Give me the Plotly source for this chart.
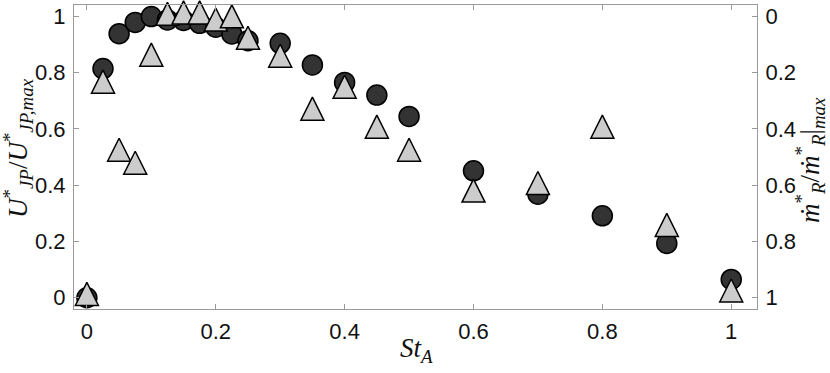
import plotly.graph_objects as go

# Strouhal numbers
st_a = [0, 0.025, 0.05, 0.075, 0.1, 0.125, 0.15, 0.175, 0.2, 0.225, 0.25,
        0.3, 0.35, 0.4, 0.45, 0.5, 0.6, 0.7, 0.8, 0.9, 1.0]
# left axis: U*_JP / U*_JP,max (circles)
u_jp = [0.0, 0.814, 0.938, 0.978, 0.999, 0.987, 0.985, 0.975, 0.961, 0.937, 0.913,
        0.904, 0.827, 0.765, 0.72, 0.644, 0.451, 0.368, 0.291, 0.193, 0.065]
# right axis (reversed): m_R* / m_R*|max (triangles)
m_r = [1.0, 0.246, 0.488, 0.534, 0.15, 0.005, 0.0, 0.0, 0.025, 0.014, 0.09,
       0.154, 0.342, 0.264, 0.406, 0.488, 0.633, 0.606, 0.406, 0.755, 0.988]

x_ticks = [0, 0.2, 0.4, 0.6, 0.8, 1]
y_ticks = [0, 0.2, 0.4, 0.6, 0.8, 1]

W, H = 830, 373
L, R, T, B = 74, 73, 5, 64
axis_col = "#9a9a9a"
tick_font = dict(family="Liberation Sans, Arial, sans-serif", size=22, color="#111111")
title_font = dict(family="Liberation Serif, Times New Roman, serif", size=27, color="#111111")

fig = go.Figure()
fig.add_trace(go.Scatter(
    x=st_a, y=u_jp, mode="markers", yaxis="y",
    marker=dict(symbol="circle", size=20, color="#333333",
                line=dict(color="black", width=1.5)),
    showlegend=False, cliponaxis=False, hoverinfo="skip"))
tri_size = 23
fig.add_trace(go.Scatter(
    x=st_a, y=m_r, mode="markers", yaxis="y2",
    marker=dict(symbol="arrow-down", angle=180, standoff=tri_size * 2 / 3,
                size=tri_size, color="#cccccc",
                line=dict(color="black", width=1.5)),
    showlegend=False, cliponaxis=False, hoverinfo="skip"))

fig.update_layout(
    width=W, height=H,
    margin=dict(l=L, r=R, t=T, b=B, autoexpand=False),
    paper_bgcolor="white", plot_bgcolor="white",
    xaxis=dict(range=[-0.02, 1.04], tickvals=x_ticks, ticktext=[f"{v:g}" for v in x_ticks],
               showgrid=False, zeroline=False, showline=True, linecolor=axis_col,
               linewidth=1, mirror="ticks", ticks="inside", ticklen=5, tickcolor=axis_col,
               tickfont=tick_font, ticklabelstandoff=3),
    yaxis=dict(range=[-0.04, 1.04], tickvals=y_ticks, ticktext=[f"{v:g}" for v in y_ticks],
               showgrid=False, zeroline=False, showline=True, linecolor=axis_col,
               linewidth=1, ticks="inside", ticklen=5, tickcolor=axis_col,
               tickfont=tick_font, ticklabelstandoff=3),
    yaxis2=dict(range=[1.04, -0.04], tickvals=y_ticks, ticktext=[f"{v:g}" for v in y_ticks],
                overlaying="y", side="right",
                showgrid=False, zeroline=False, showline=True, linecolor=axis_col,
                linewidth=1, ticks="inside", ticklen=5, tickcolor=axis_col,
                tickfont=tick_font, ticklabelstandoff=3),
)

plot_w = W - L - R
plot_h = H - T - B

def px_to_paper_x(px):
    return (px - L) / plot_w

def px_to_paper_y(py):
    return (H - B - py) / plot_h

fig.add_annotation(
    text="<i>U</i><sup>*</sup><sub><i>JP</i></sub>/<i>U</i><sup>*</sup><sub><i>JP,max</i></sub>",
    xref="paper", yref="paper", x=px_to_paper_x(18), y=px_to_paper_y(148),
    textangle=-90, showarrow=False, font=title_font, xanchor="center", yanchor="middle")
fig.add_annotation(
    text="<i>ṁ</i><sup>*</sup><sub><i>R</i></sub>/<i>ṁ</i><sup>*</sup><sub><i>R</i></sub>|<sub><i>max</i></sub>",
    xref="paper", yref="paper", x=px_to_paper_x(810), y=px_to_paper_y(160),
    textangle=-90, showarrow=False, font=title_font, xanchor="center", yanchor="middle")
fig.add_annotation(
    text="<i>St</i><sub><i>A</i></sub>",
    xref="paper", yref="paper", x=px_to_paper_x(416), y=px_to_paper_y(350),
    showarrow=False, font=title_font, xanchor="center", yanchor="middle")

fig.write_html("out.html", config={"displayModeBar": False},
               post_script="document.body.style.margin='0';document.body.style.overflow='hidden';")
